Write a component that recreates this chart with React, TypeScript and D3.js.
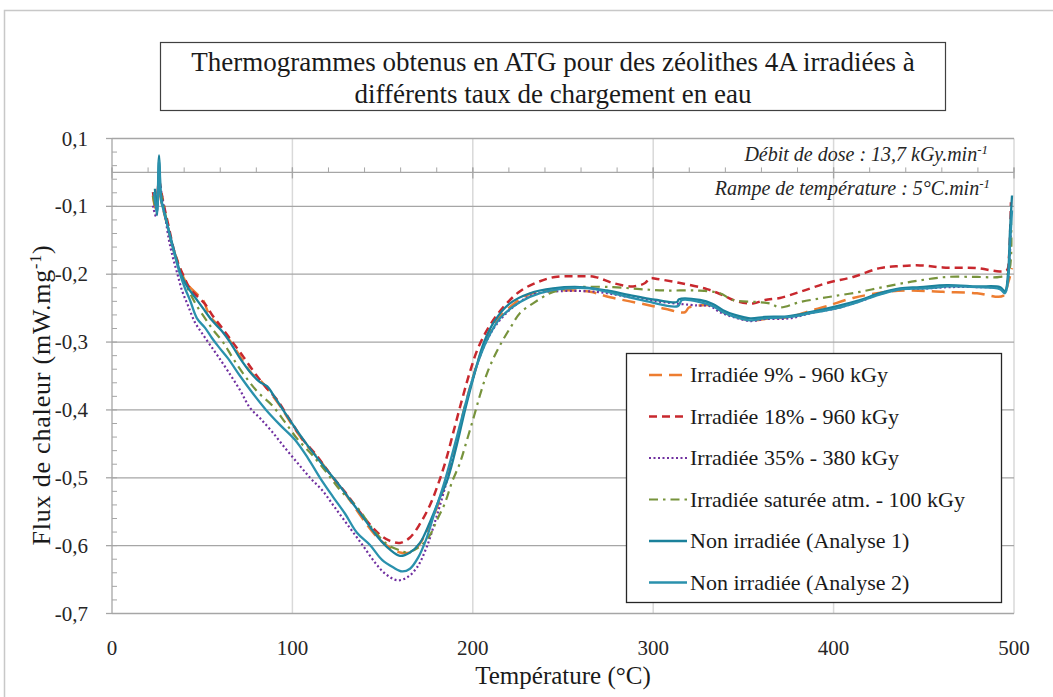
import * as d3 from 'd3'

// temperature (°C), heat flow (mW/mg)
const irr9: [number, number][] = [
  [22.7, -0.084], [24.4, -0.106], [26.1, -0.074], [27.2, -0.091], [28.8, -0.109], [31.0, -0.132],
  [33.8, -0.162], [36.6, -0.182], [38.8, -0.2], [42.1, -0.216], [46.6, -0.228], [50.4, -0.238],
  [54.3, -0.262], [58.8, -0.275], [64.3, -0.294], [71.0, -0.321], [77.6, -0.347], [83.1, -0.359],
  [87.6, -0.374], [93.1, -0.394], [100.3, -0.424], [107.0, -0.449], [114.2, -0.471], [122.5, -0.5],
  [130.8, -0.529], [138.6, -0.559], [145.8, -0.584], [153.0, -0.601], [159.6, -0.61], [166.3, -0.609],
  [170.7, -0.597], [176.3, -0.568], [181.8, -0.532], [185.7, -0.5], [190.7, -0.451], [195.1, -0.4],
  [200.7, -0.347], [206.8, -0.3], [213.4, -0.268], [221.7, -0.246], [231.7, -0.229], [248.3, -0.224],
  [265.0, -0.226], [276.1, -0.234], [287.1, -0.24], [298.2, -0.246], [306.5, -0.251], [317.6, -0.256],
  [319.8, -0.249], [325.9, -0.246], [332.6, -0.246], [338.7, -0.256], [346.5, -0.263], [354.8, -0.268],
  [364.7, -0.265], [375.8, -0.263], [386.9, -0.254], [396.3, -0.247], [410.8, -0.235], [429.6, -0.226],
  [442.4, -0.224], [460.6, -0.226], [479.5, -0.228], [493.9, -0.232], [496.7, -0.213], [498.9, -0.191]
]

const irr18: [number, number][] = [
  [22.7, -0.079], [24.4, -0.099], [26.1, -0.062], [27.7, -0.084], [29.4, -0.106], [31.6, -0.132],
  [34.4, -0.165], [37.1, -0.187], [39.4, -0.201], [43.2, -0.221], [47.1, -0.232], [51.6, -0.244],
  [56.0, -0.262], [61.0, -0.279], [66.5, -0.299], [72.1, -0.319], [78.7, -0.344], [84.8, -0.365],
  [91.5, -0.385], [98.7, -0.415], [105.9, -0.444], [113.1, -0.466], [120.8, -0.494], [129.2, -0.521],
  [136.4, -0.547], [143.0, -0.569], [148.6, -0.584], [154.1, -0.593], [159.6, -0.596], [165.2, -0.588],
  [170.7, -0.568], [176.3, -0.54], [180.7, -0.51], [185.1, -0.474], [189.6, -0.429], [194.0, -0.385],
  [198.4, -0.344], [202.9, -0.309], [209.5, -0.275], [217.8, -0.246], [226.2, -0.225], [235.6, -0.212],
  [245.6, -0.204], [256.7, -0.203], [267.7, -0.204], [277.7, -0.213], [288.8, -0.218], [295.5, -0.213],
  [298.2, -0.206], [302.1, -0.207], [314.9, -0.213], [329.8, -0.222], [338.7, -0.231], [346.5, -0.24],
  [355.3, -0.243], [362.0, -0.238], [370.3, -0.235], [381.4, -0.226], [396.3, -0.213], [410.8, -0.204],
  [425.7, -0.191], [436.8, -0.188], [447.9, -0.187], [460.6, -0.19], [479.5, -0.191], [492.2, -0.196],
  [496.1, -0.194], [497.2, -0.175], [498.3, -0.094]
]

const irr35: [number, number][] = [
  [22.7, -0.099], [24.4, -0.115], [26.1, -0.065], [27.7, -0.084], [29.4, -0.113], [31.6, -0.15],
  [33.8, -0.176], [36.0, -0.197], [38.8, -0.224], [42.1, -0.246], [46.0, -0.271], [49.9, -0.287],
  [54.3, -0.304], [58.8, -0.321], [64.3, -0.343], [71.0, -0.371], [76.5, -0.397], [82.0, -0.412],
  [88.7, -0.432], [95.9, -0.456], [103.1, -0.479], [109.8, -0.5], [116.4, -0.518], [123.6, -0.544],
  [131.9, -0.574], [139.1, -0.6], [145.8, -0.625], [151.3, -0.641], [158.0, -0.651], [163.5, -0.647],
  [169.1, -0.632], [174.6, -0.601], [179.0, -0.565], [183.5, -0.525], [187.9, -0.481], [192.4, -0.432],
  [196.8, -0.385], [201.8, -0.338], [207.3, -0.3], [214.0, -0.271], [223.4, -0.246], [234.5, -0.229],
  [248.3, -0.225], [268.8, -0.226], [287.1, -0.234], [305.4, -0.241], [324.3, -0.246], [331.5, -0.247],
  [337.0, -0.256], [344.2, -0.263], [353.7, -0.269], [362.0, -0.266], [375.8, -0.265], [388.0, -0.257],
  [401.9, -0.25], [414.6, -0.24], [426.8, -0.228], [437.9, -0.222], [450.7, -0.221], [464.5, -0.219],
  [479.5, -0.219], [492.2, -0.221], [495.0, -0.226], [496.7, -0.206], [498.3, -0.135]
]

const irrSat: [number, number][] = [
  [22.7, -0.085], [24.4, -0.103], [26.1, -0.069], [27.7, -0.088], [29.4, -0.109], [31.6, -0.138],
  [34.4, -0.168], [37.1, -0.191], [39.9, -0.209], [43.2, -0.228], [47.1, -0.247], [51.6, -0.265],
  [56.0, -0.282], [61.5, -0.3], [67.1, -0.324], [73.7, -0.35], [80.9, -0.374], [88.7, -0.393],
  [95.9, -0.418], [103.1, -0.444], [110.9, -0.466], [118.6, -0.491], [126.4, -0.518], [135.8, -0.543],
  [144.7, -0.576], [153.0, -0.599], [159.6, -0.607], [163.5, -0.61], [170.7, -0.601], [176.3, -0.584],
  [180.2, -0.562], [184.6, -0.537], [188.5, -0.506], [192.9, -0.478], [196.8, -0.444], [200.7, -0.409],
  [204.0, -0.378], [207.9, -0.346], [212.3, -0.319], [216.7, -0.297], [221.7, -0.275], [226.2, -0.257],
  [233.4, -0.243], [242.8, -0.228], [251.1, -0.222], [259.4, -0.219], [277.7, -0.219], [292.7, -0.222],
  [307.6, -0.224], [324.3, -0.224], [337.0, -0.228], [344.2, -0.238], [357.5, -0.241], [364.7, -0.243],
  [370.3, -0.249], [381.4, -0.241], [396.3, -0.234], [414.6, -0.226], [432.9, -0.216], [447.9, -0.209],
  [462.9, -0.204], [479.5, -0.204], [492.2, -0.204], [496.7, -0.199], [498.3, -0.118]
]

const nonIrr1: [number, number][] = [
  [23.8, -0.074], [24.9, -0.113], [26.1, -0.025], [27.2, -0.087], [28.3, -0.101], [30.5, -0.125],
  [33.3, -0.154], [35.5, -0.176], [38.2, -0.2], [41.6, -0.218], [46.0, -0.234], [50.4, -0.25],
  [55.4, -0.268], [61.0, -0.284], [65.4, -0.3], [71.0, -0.324], [76.5, -0.344], [82.0, -0.359],
  [85.9, -0.365], [90.4, -0.382], [94.8, -0.4], [101.4, -0.426], [108.6, -0.453], [115.3, -0.476],
  [123.6, -0.503], [131.9, -0.532], [140.2, -0.562], [147.5, -0.588], [154.1, -0.606], [159.6, -0.615],
  [165.2, -0.61], [170.7, -0.596], [176.3, -0.565], [181.8, -0.529], [186.3, -0.5], [191.2, -0.451],
  [195.7, -0.4], [200.7, -0.349], [206.2, -0.3], [212.3, -0.268], [220.6, -0.243], [231.7, -0.228],
  [244.5, -0.221], [259.4, -0.219], [274.4, -0.224], [287.1, -0.231], [302.1, -0.238], [313.2, -0.241],
  [314.3, -0.237], [325.9, -0.238], [333.1, -0.244], [338.7, -0.253], [345.3, -0.26], [353.7, -0.265],
  [362.0, -0.263], [374.2, -0.262], [386.9, -0.256], [401.9, -0.247], [414.6, -0.238], [425.7, -0.228],
  [436.8, -0.221], [447.9, -0.219], [462.9, -0.216], [479.5, -0.218], [492.2, -0.219], [495.0, -0.225],
  [496.7, -0.199], [497.8, -0.135], [498.9, -0.084]
]

const nonIrr2: [number, number][] = [
  [23.3, -0.079], [24.9, -0.109], [26.1, -0.032], [27.2, -0.091], [28.3, -0.103], [30.5, -0.126],
  [33.3, -0.157], [35.5, -0.179], [37.7, -0.2], [40.5, -0.221], [43.2, -0.238], [47.1, -0.265],
  [51.6, -0.279], [55.4, -0.294], [58.8, -0.306], [64.3, -0.324], [71.0, -0.35], [77.6, -0.374],
  [85.4, -0.4], [93.1, -0.422], [101.4, -0.444], [108.6, -0.471], [115.3, -0.5], [122.5, -0.528],
  [129.2, -0.553], [135.8, -0.581], [143.0, -0.599], [149.7, -0.621], [155.8, -0.632], [160.8, -0.638],
  [165.2, -0.634], [169.6, -0.618], [174.1, -0.591], [179.0, -0.55], [184.0, -0.509], [188.5, -0.466],
  [192.9, -0.422], [197.3, -0.378], [202.3, -0.334], [207.9, -0.297], [215.1, -0.265], [226.2, -0.241],
  [237.3, -0.228], [252.2, -0.221], [265.0, -0.221], [274.4, -0.226], [296.6, -0.24], [313.7, -0.247],
  [316.0, -0.238], [325.9, -0.241], [333.1, -0.247], [338.7, -0.256], [345.3, -0.263], [353.7, -0.268],
  [362.0, -0.265], [375.8, -0.263], [388.0, -0.257], [401.9, -0.25], [414.6, -0.24], [426.8, -0.229],
  [437.9, -0.222], [450.7, -0.221], [464.5, -0.218], [479.5, -0.219], [492.2, -0.222], [495.0, -0.228],
  [496.7, -0.209], [497.8, -0.157], [498.9, -0.106]
]

const seriesNames = [
  'Irradiée 9% - 960 kGy',
  'Irradiée 18% - 960 kGy',
  'Irradiée 35% - 380 kGy',
  'Irradiée saturée atm. - 100 kGy',
  'Non irradiée (Analyse 1)',
  'Non irradiée (Analyse 2)'
]
const seriesData = [irr9, irr18, irr35, irrSat, nonIrr1, nonIrr2]

const xTicks = [0, 100, 200, 300, 400, 500]
const yTicks = [0, -0.1, -0.2, -0.3, -0.4, -0.5, -0.6, -0.7]
const yTickLabels = ['0,1', '-0,1', '-0,2', '-0,3', '-0,4', '-0,5', '-0,6', '-0,7']

const styles = [
  { color: '#ed7d31', dash: '13,7', width: 2.5 },
  { color: '#c8282e', dash: '8,5', width: 2.5 },
  { color: '#7030a0', dash: '2,2.5', width: 2.2 },
  { color: '#77933c', dash: '9,5,2.5,5', width: 2.2 },
  { color: '#1b819b', dash: '', width: 2.3 },
  { color: '#2a91ad', dash: '', width: 2.3 }
]

const font = '"Liberation Serif", "Times New Roman", Tinos, "DejaVu Serif", serif'

export default function App() {
  const W = 1053
  const H = 697
  const x = d3.scaleLinear().domain([0, 500]).range([112, 1014])
  const y = d3.scaleLinear().domain([-0.7, 0]).range([613.5, 138.5])

  const line = d3.line<[number, number]>()
    .x(d => x(d[0]))
    .y(d => y(d[1]))
    .curve(d3.curveCatmullRom.alpha(0.5))

  const yMinor = d3.range(0, 36).map(i => -i * 0.02)
  const xMinor = d3.range(0, 26).map(i => i * 20)
  const axisY = y(-0.05)
  const grid = '#a6a6a6'
  const ts = { fontFamily: font }

  const legendX = 626
  const legendY = 353
  const rowH = 41.5

  return (
    <svg width={W} height={H} style={{ position: 'absolute', left: 0, top: 0, background: '#fff', fontFamily: font }}>
      <rect x={4.5} y={10.5} width={1070} height={710} fill="#fff" stroke="#c8c8c8" strokeWidth={1.5} />

      {/* vertical gridlines */}
      {xTicks.slice(1).map(t => (
        <line key={'vx' + t} x1={x(t)} x2={x(t)} y1={y(0)} y2={y(-0.7)} stroke="#d9d9d9" strokeWidth={1.5} />
      ))}
      {/* horizontal gridlines */}
      {yTicks.map(t => (
        <line key={'hy' + t} x1={x(0)} x2={x(500)} y1={y(t)} y2={y(t)} stroke={grid} strokeWidth={1.3} />
      ))}

      {/* y axis */}
      <line x1={x(0)} x2={x(0)} y1={y(0)} y2={y(-0.7)} stroke={grid} strokeWidth={1.3} />
      {yMinor.map(t => (
        <line key={'ym' + t} x1={x(0)} x2={x(0) + 5} y1={y(t)} y2={y(t)} stroke={grid} strokeWidth={1} />
      ))}
      {yTicks.map((t, i) => (
        <g key={'yl' + t}>
          <line x1={x(0) - 6} x2={x(0)} y1={y(t)} y2={y(t)} stroke={grid} strokeWidth={1.3} />
          <text x={88} y={y(t) + 7} textAnchor="end" fontSize={21} fill="#262626" style={ts}>{yTickLabels[i]}</text>
        </g>
      ))}

      {/* x axis crossing line */}
      <line x1={x(0)} x2={x(500)} y1={axisY} y2={axisY} stroke={grid} strokeWidth={1.3} />
      {xMinor.map(t => (
        <line key={'xm' + t} x1={x(t)} x2={x(t)} y1={axisY - 5} y2={axisY} stroke={grid} strokeWidth={1} />
      ))}
      {xTicks.map(t => (
        <line key={'xM' + t} x1={x(t)} x2={x(t)} y1={axisY - 5} y2={axisY + 6} stroke={grid} strokeWidth={1.3} />
      ))}
      {xTicks.map(t => (
        <text key={'xl' + t} x={x(t)} y={655} textAnchor="middle" fontSize={21} fill="#262626" style={ts}>{t}</text>
      ))}

      {/* annotations */}
      <text x={988} y={161} textAnchor="end" fontSize={20} fontStyle="italic" fill="#262626" style={ts}>
        Débit de dose : 13,7 kGy.min<tspan dy={-7} fontSize={13}>-1</tspan>
      </text>
      <text x={990} y={195} textAnchor="end" fontSize={20} fontStyle="italic" fill="#262626" style={ts}>
        Rampe de température : 5°C.min<tspan dy={-7} fontSize={13}>-1</tspan>
      </text>

      {/* series */}
      {seriesData.map((s, i) => (
        <path key={'s' + i} d={line(s) || ''} fill="none" stroke={styles[i].color}
          strokeWidth={styles[i].width} strokeDasharray={styles[i].dash || undefined}
          strokeLinejoin="round" />
      ))}

      {/* title */}
      <rect x={160.5} y={42.5} width={785} height={68} fill="#fff" stroke="#404040" strokeWidth={1.2} />
      <text x={553} y={71} textAnchor="middle" fontSize={27} fill="#1a1a1a" style={ts}>
        Thermogrammes obtenus en ATG pour des zéolithes 4A irradiées à
      </text>
      <text x={553} y={103} textAnchor="middle" fontSize={27} fill="#1a1a1a" style={ts}>
        différents taux de chargement en eau
      </text>

      {/* axis titles */}
      <text x={563} y={684} textAnchor="middle" fontSize={25} fill="#1a1a1a" style={ts}>Température (°C)</text>
      <text transform="translate(50,395) rotate(-90)" textAnchor="middle" fontSize={26} letterSpacing={0.8}
        fill="#1a1a1a" style={ts}>
        Flux de chaleur (mW.mg<tspan dy={-9} fontSize={16}>-1</tspan><tspan dy={9}>)</tspan>
      </text>

      {/* legend */}
      <rect x={legendX + 0.5} y={legendY + 0.5} width={375} height={249} fill="#fff" stroke="#262626" strokeWidth={1.3} />
      {seriesNames.map((n, i) => {
        const cy = legendY + 22 + i * rowH
        return (
          <g key={'lg' + i}>
            <line x1={649} x2={687} y1={cy} y2={cy} stroke={styles[i].color}
              strokeWidth={styles[i].width} strokeDasharray={styles[i].dash || undefined} />
            <text x={690} y={cy + 7} fontSize={22} fill="#1a1a1a" style={ts}>{n}</text>
          </g>
        )
      })}
    </svg>
  )
}
